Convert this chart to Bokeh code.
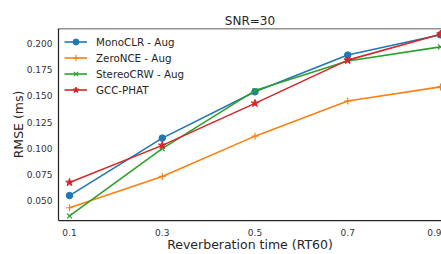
from bokeh.plotting import figure
from bokeh.models import Range1d, FixedTicker, Span
from bokeh.embed import file_html
from bokeh.resources import INLINE

rt60 = [0.1, 0.3, 0.5, 0.7, 0.9]
monoclr = [0.055, 0.1097, 0.1538, 0.1888, 0.2081]
zeronce = [0.0434, 0.0732, 0.1116, 0.1450, 0.1585]
stereocrw = [0.0356, 0.0997, 0.1550, 0.1831, 0.1966]
gccphat = [0.0675, 0.1028, 0.1428, 0.1840, 0.2087]

series_names = ["MonoCLR - Aug", "ZeroNCE - Aug", "StereoCRW - Aug", "GCC-PHAT"]
series_colors = ["#1f77b4", "#ff7f0e", "#2ca02c", "#d62728"]
series_markers = ["circle", "cross", "x", "star"]

x_ticks = [0.1, 0.3, 0.5, 0.7, 0.9]
x_tick_labels = ["0.1", "0.3", "0.5", "0.7", "0.9"]
y_ticks = [0.050, 0.075, 0.100, 0.125, 0.150, 0.175, 0.200]
y_tick_labels = ["0.050", "0.075", "0.100", "0.125", "0.150", "0.175", "0.200"]

FONT = "DejaVu Sans"
DARK = "#262626"

p = figure(width=441, height=254, output_backend="svg", toolbar_location=None,
           x_range=Range1d(0.0763, 0.9022), y_range=Range1d(0.03125, 0.2141),
           min_border_left=58, min_border_right=0, min_border_top=28, min_border_bottom=31,
           title="SNR=30")
p.background_fill_color = "white"
p.border_fill_color = "white"
p.outline_line_color = None
p.xgrid.visible = False
p.ygrid.visible = False

p.title.text_font = FONT
p.title.text_font_size = "12px"
p.title.text_font_style = "normal"
p.title.text_color = DARK
p.title.align = "center"
p.title.offset = 5
p.title.standoff = 2

for ax in (p.xaxis[0], p.yaxis[0]):
    ax.axis_line_color = DARK
    ax.axis_line_width = 1.25
    ax.major_tick_out = 0
    ax.major_tick_in = 0
    ax.minor_tick_out = 0
    ax.minor_tick_in = 0
    ax.major_label_text_font = FONT
    ax.major_label_text_font_size = "9px"
    ax.major_label_text_color = "#333333"
    ax.axis_label_text_font = FONT
    ax.axis_label_text_font_size = "12.5px"
    ax.axis_label_text_font_style = "normal"
    ax.axis_label_text_color = DARK

p.xaxis.ticker = FixedTicker(ticks=x_ticks)
p.xaxis.major_label_overrides = dict(zip(x_ticks, x_tick_labels))
p.yaxis.ticker = FixedTicker(ticks=y_ticks)
p.yaxis.major_label_overrides = dict(zip(y_ticks, y_tick_labels))
p.xaxis.axis_label = "Reverberation time (RT60)"
p.yaxis.axis_label = "RMSE (ms)"
p.xaxis.major_label_standoff = 8
p.yaxis.major_label_standoff = 6
p.xaxis.axis_label_standoff = -2
p.yaxis.axis_label_standoff = -2

top_spine = Span(location=0.2141, dimension="width", line_color=DARK, line_width=1.25)
p.add_layout(top_spine)

all_series = [monoclr, zeronce, stereocrw, gccphat]
for vals, name, col, mk in zip(all_series, series_names, series_colors, series_markers):
    p.line(rt60, vals, line_color=col, line_width=1.6, legend_label=name)
    if mk == "circle":
        p.scatter(rt60, vals, marker=mk, size=6.5, fill_color=col, line_color=col, legend_label=name)
    elif mk == "star":
        p.scatter(rt60, vals, marker=mk, size=8, fill_color=col, line_color=col, legend_label=name)
    else:
        p.scatter(rt60, vals, marker=mk, size=7, fill_color=None, line_color=col, line_width=1.2, legend_label=name)

lg = p.legend[0]
lg.location = "top_left"
lg.margin = 6
lg.padding = 7
lg.spacing = 1
lg.glyph_width = 23
lg.glyph_height = 15
lg.label_height = 15
lg.label_standoff = 9
lg.border_line_color = None
lg.background_fill_alpha = 0
lg.label_text_font = FONT
lg.label_text_font_size = "10.3px"
lg.label_text_color = DARK

open("out.html", "w").write(file_html(p, INLINE))
